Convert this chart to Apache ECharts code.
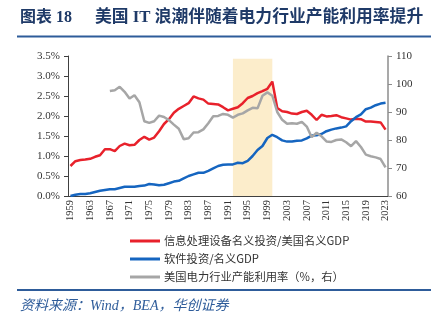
<!DOCTYPE html>
<html><head><meta charset="utf-8">
<script src="https://cdn.jsdelivr.net/npm/echarts@6/dist/echarts.min.js"></script>
<style>html,body{margin:0;padding:0;background:#fff}#c{width:441px;height:328px}</style>
</head><body><div id="c"></div>
<script>
const years = [];
for (let y = 1959; y <= 2023; y++) years.push(String(y));
const redName = '信息处理设备名义投资/美国名义GDP';
const blueName = '软件投资/名义GDP';
const grayName = '美国电力行业产能利用率（%，右）';
const redVals = [0.75,0.87,0.90,0.91,0.93,0.98,1.02,1.17,1.17,1.12,1.25,1.31,1.27,1.28,1.40,1.48,1.41,1.46,1.62,1.80,1.92,2.08,2.18,2.25,2.32,2.49,2.44,2.41,2.31,2.30,2.29,2.22,2.14,2.18,2.22,2.32,2.45,2.50,2.57,2.62,2.68,2.86,2.20,2.12,2.10,2.06,2.05,2.10,2.13,2.03,1.90,2.03,1.99,2.00,2.02,1.97,1.94,1.91,1.93,1.92,1.86,1.86,1.85,1.84,1.66];
const blueVals = [0.00,0.03,0.05,0.05,0.07,0.10,0.13,0.15,0.17,0.17,0.20,0.23,0.23,0.23,0.25,0.26,0.30,0.29,0.27,0.28,0.32,0.36,0.38,0.44,0.50,0.54,0.58,0.58,0.63,0.69,0.75,0.78,0.79,0.79,0.83,0.82,0.88,1.00,1.15,1.25,1.45,1.53,1.47,1.39,1.36,1.36,1.38,1.39,1.44,1.51,1.52,1.55,1.62,1.66,1.69,1.71,1.74,1.87,1.97,2.04,2.17,2.21,2.27,2.31,2.33];
const grayVals = [null,null,null,null,null,null,null,null,97.5,97.8,99.0,97.2,94.8,96.0,93.5,86.7,86.1,86.7,88.7,88.2,87.1,85.5,84.0,80.3,80.6,82.7,82.8,83.8,86.0,88.5,88.6,89.3,89.0,88.0,89.0,89.5,90.6,91.5,91.3,95.8,97.0,95.8,90.0,87.2,85.8,86.0,85.8,86.5,84.8,81.0,82.6,81.3,79.5,79.3,80.0,80.2,79.2,77.8,79.6,77.5,74.8,74.2,73.8,73.2,70.2];
const shadeRange = ['1992','2000'];
const leftTicks = {min:0, max:3.5, interval:0.5};
const rightTicks = {min:60, max:110, interval:10};

const chart = echarts.init(document.getElementById('c'));
const serif = "'Liberation Serif','Times New Roman',serif";
const cjk = "'Noto Sans CJK SC','Liberation Serif',sans-serif";
const titleFont = "'Liberation Serif','Noto Sans CJK SC',serif";
chart.setOption({
  animation:false,
  backgroundColor:'#fff',
  grid:{left:68,right:53,top:56,bottom:132,containLabel:false},
  legend:{
    orient:'vertical', left:125, top:229, itemWidth:30, itemHeight:3, itemGap:4,
    icon:'rect',
    data:[redName, blueName, grayName],
    textStyle:{fontSize:11.3, color:'#333', fontFamily:cjk, lineHeight:14, padding:[0,0,0,-1]}
  },
  xAxis:{
    type:'category', data:years, boundaryGap:true,
    axisLine:{lineStyle:{color:'#404040', width:1}},
    axisTick:{alignWithLabel:true, interval:3, length:4, lineStyle:{color:'#404040'}},
    axisLabel:{interval:3, rotate:90, fontSize:10.5, color:'#333', fontFamily:serif, margin:4}
  },
  yAxis:[{
    type:'value', min:leftTicks.min, max:leftTicks.max, interval:leftTicks.interval,
    axisLine:{show:true, lineStyle:{color:'#404040'}},
    axisTick:{show:true, length:4, lineStyle:{color:'#404040'}},
    splitLine:{show:false},
    axisLabel:{formatter:v=>v.toFixed(1)+'%', fontSize:11, color:'#333', fontFamily:serif, margin:8}
  },{
    type:'value', position:'right', min:rightTicks.min, max:rightTicks.max, interval:rightTicks.interval,
    axisLine:{show:true, lineStyle:{color:'#8c8c8c', width:1.5}},
    axisTick:{show:true, length:4, lineStyle:{color:'#8c8c8c'}},
    splitLine:{show:false},
    axisLabel:{fontSize:11, color:'#333', fontFamily:serif, margin:8}
  }],
  series:[
    {name:redName, type:'line', data:redVals, yAxisIndex:0, symbol:'none', color:'#E8212B', lineStyle:{width:2.5, color:'#E8212B'}, z:2},
    {name:blueName, type:'line', data:blueVals, yAxisIndex:0, symbol:'none', color:'#1565C0', lineStyle:{width:2.5, color:'#1565C0'}, z:2},
    {name:grayName, type:'line', data:grayVals, yAxisIndex:1, symbol:'none', color:'#A6A6A6', lineStyle:{width:2.5, color:'#A6A6A6'}, z:2},
    {name:'shade', type:'line', data:[], yAxisIndex:0, z:5, silent:true,
     markArea:{silent:true, itemStyle:{color:'rgba(248,205,110,0.36)'},
       data:[[{xAxis:shadeRange[0], yAxis:0},{xAxis:shadeRange[1], yAxis:3.43}]]}}
  ],
  graphic:[
    {type:'text', left:20, top:10, style:{text:'图表 18', fontSize:16, fontWeight:'bold', fill:'#1F3A68', fontFamily:titleFont}},
    {type:'text', left:95, top:9, style:{text:'美国 IT 浪潮伴随着电力行业产能利用率提升', fontSize:16.8, fontWeight:'bold', fill:'#1F3A68', fontFamily:titleFont}},
    {type:'rect', shape:{x:17, y:35.5, width:414, height:2}, style:{fill:'#2E5C9A'}},
    {type:'rect', shape:{x:17, y:289, width:414, height:2}, style:{fill:'#2E5C9A'}},
    {type:'text', left:20, top:299, style:{text:'资料来源：Wind，BEA，华创证券', fontSize:14, fontStyle:'italic', fill:'#2E5C9A', fontFamily:titleFont}}
  ]
});
</script></body></html>
